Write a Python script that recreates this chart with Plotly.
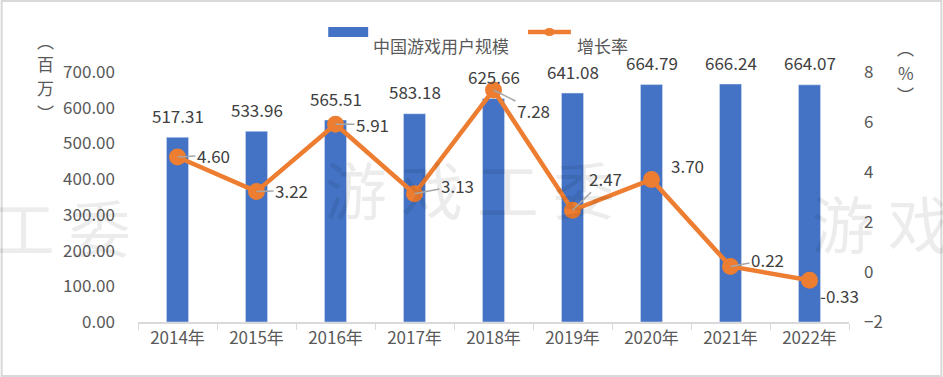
import plotly.graph_objects as go

years = ["2014年", "2015年", "2016年", "2017年", "2018年", "2019年", "2020年", "2021年", "2022年"]
users = [517.31, 533.96, 565.51, 583.18, 625.66, 641.08, 664.79, 666.24, 664.07]
growth = [4.60, 3.22, 5.91, 3.13, 7.28, 2.47, 3.70, 0.22, -0.33]
# label offsets (px) for growth labels, and whether a leader line is drawn
g_ax = [36, 35, 37, 43, 40, 33, 36, 37, 30]
g_ay = [-2, -1, 0, -8, 20, -32, -14, -7, 15]
g_leader = [True, True, True, True, True, True, False, True, False]

FONT = "Noto Sans CJK SC"
W, H = 943, 377
L, R, T, B = 137.5, 93.5, 72, 55
PW, PH = W - L - R, H - T - B
BLUE, ORANGE = "#4472C4", "#ED7D31"


def px(x):
    return (x - L) / PW


def py(y):
    return (H - B - y) / PH


fig = go.Figure()
fig.add_trace(go.Bar(
    x=years, y=users, name="中国游戏用户规模",
    marker=dict(color=BLUE), width=0.28, yaxis="y", showlegend=False,
))
fig.add_trace(go.Scatter(
    x=years, y=growth, name="增长率", yaxis="y2",
    mode="lines+markers", showlegend=False,
    line=dict(color=ORANGE, width=4.5),
    marker=dict(color=ORANGE, size=17),
))

ann = []
# watermarks
for cx, cy in [(470, 188), (-15, 226), (958, 222)]:
    ann.append(dict(xref="paper", yref="paper", x=px(cx), y=py(cy), text="游 戏 工 委",
                    showarrow=False, font=dict(family=FONT, size=62, color="rgba(0,0,0,0.075)"),
                    xanchor="center", yanchor="middle"))
# bar labels
for c, v in zip(years, users):
    ann.append(dict(x=c, y=v, xref="x", yref="y", text=f"{v:.2f}", showarrow=False,
                    yshift=22, font=dict(family=FONT, size=17, color="#404040")))
# growth labels
for c, v, ax, ay, ld in zip(years, growth, g_ax, g_ay, g_leader):
    if ld:
        ann.append(dict(x=c, y=v, xref="x", yref="y2", text=f"{v:.2f}", showarrow=True,
                        arrowhead=0, arrowwidth=1.5, arrowcolor="#A6A6A6", ax=ax, ay=ay,
                        standoff=0, font=dict(family=FONT, size=17, color="#404040")))
    else:
        ann.append(dict(x=c, y=v, xref="x", yref="y2", text=f"{v:.2f}", showarrow=False,
                        xshift=ax, yshift=-ay, font=dict(family=FONT, size=17, color="#404040")))
# axis titles (vertical, one glyph per annotation)
for ch, yy in [("︵", 40), ("百", 64), ("万", 88), ("︶", 112)]:
    ann.append(dict(xref="paper", yref="paper", x=px(34), y=py(yy), text=ch, yanchor="middle",
                    showarrow=False, font=dict(family=FONT, size=17, color="#595959")))
for ch, yy in [("︵", 48), ("%", 72), ("︶", 94)]:
    ann.append(dict(xref="paper", yref="paper", x=px(917), y=py(yy), text=ch, yanchor="middle",
                    showarrow=False, font=dict(family=FONT, size=17, color="#595959")))
# custom legend texts
ann.append(dict(xref="paper", yref="paper", x=px(371), y=py(31), text="中国游戏用户规模",
                xanchor="left", showarrow=False, font=dict(family=FONT, size=17, color="#595959")))
ann.append(dict(xref="paper", yref="paper", x=px(575), y=py(31), text="增长率",
                xanchor="left", showarrow=False, font=dict(family=FONT, size=17, color="#595959")))

shapes = [
    dict(type="rect", xref="paper", yref="paper", x0=px(1), x1=px(942), y0=py(376), y1=py(1),
         line=dict(color="#D9D9D9", width=2), layer="below"),
    dict(type="rect", xref="paper", yref="paper", x0=px(328), x1=px(368), y0=py(37), y1=py(27),
         fillcolor=BLUE, line=dict(width=0)),
    dict(type="line", xref="paper", yref="paper", x0=px(528), x1=px(571), y0=py(32), y1=py(32),
         line=dict(color=ORANGE, width=4.5)),
    dict(type="circle", xref="paper", yref="paper", x0=px(544), x1=px(555), y0=py(36), y1=py(28),
         fillcolor=ORANGE, line=dict(width=0)),
]

fig.update_layout(
    width=W, height=H,
    margin=dict(l=L, r=R, t=T, b=B, autoexpand=False),
    paper_bgcolor="white", plot_bgcolor="white",
    font=dict(family=FONT, size=16, color="#595959"),
    showlegend=False,
    annotations=ann,
    shapes=shapes,
    xaxis=dict(type="category", range=[-0.5, len(years) - 0.5], showline=True,
               linecolor="#D9D9D9", linewidth=1.5,
               ticks="outside", tickson="boundaries", ticklen=6, tickcolor="#D9D9D9",
               tickfont=dict(family=FONT, size=17, color="#595959"), showgrid=False,
               automargin=False),
    yaxis=dict(range=[0, 700], dtick=100, tickformat=".2f", showgrid=False, zeroline=False,
               tickfont=dict(family=FONT, size=17, color="#595959"), ticklabelstandoff=22,
               automargin=False),
    yaxis2=dict(range=[-2, 8], dtick=2, overlaying="y", side="right", showgrid=False,
                zeroline=False, tickfont=dict(family=FONT, size=17, color="#595959"),
                ticklabelstandoff=14, automargin=False),
)

fig.write_html("out.html", config={"displayModeBar": False},
               post_script="document.body.style.margin='0';document.body.style.overflow='hidden';")
